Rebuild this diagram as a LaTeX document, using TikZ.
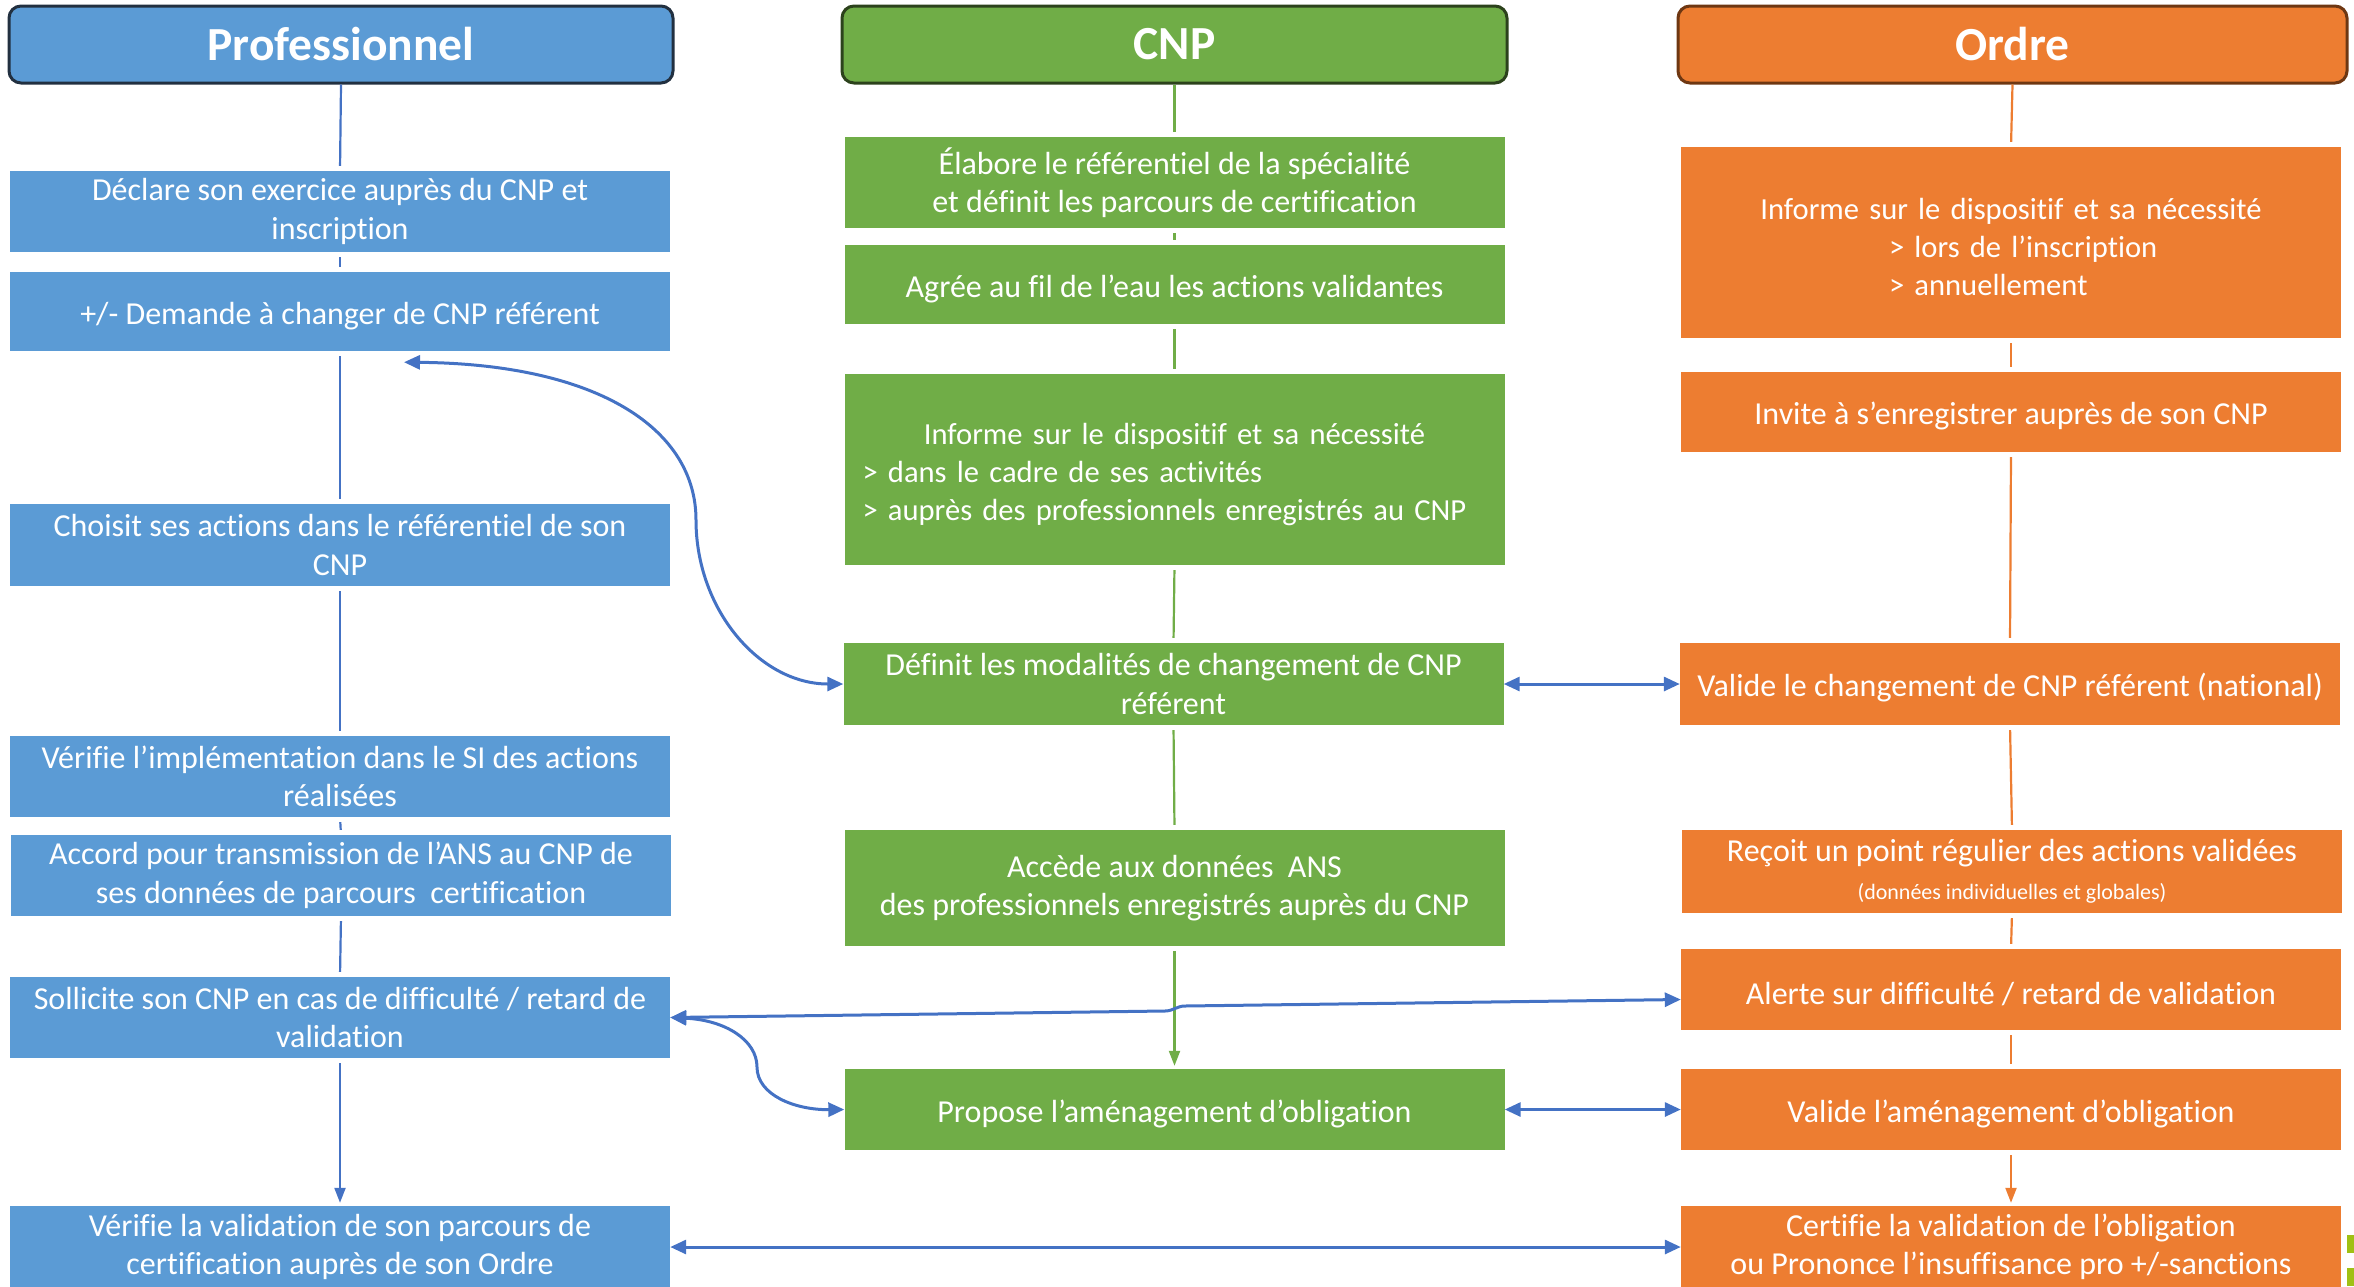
\documentclass[tikz,border=0pt]{standalone}
\usepackage{fontspec}
\setmainfont{Carlito}[Ligatures=NoCommon]
\usetikzlibrary{arrows.meta,calc}
\definecolor{pblue}{RGB}{91,155,213}
\definecolor{cgreen}{RGB}{112,173,71}
\definecolor{oorange}{RGB}{237,125,49}
\definecolor{lblue}{RGB}{68,114,196}
\definecolor{pborder}{RGB}{34,48,64}
\definecolor{cborder}{RGB}{44,66,28}
\definecolor{oborder}{RGB}{110,55,18}
\definecolor{ygreen}{RGB}{160,192,20}
\begin{document}
\begin{tikzpicture}[x=1pt,y=-1pt,
  box/.style={inner sep=0pt, text=white, align=center, font=\fontsize{32}{38.5}\selectfont, minimum width=660pt,
    execute at begin node={\rule{0pt}{31pt}}},
  pbox/.style={box, fill=pblue},
  cbox/.style={box, fill=cgreen},
  obox/.style={box, fill=oorange},
  smallbox/.style={font=\fontsize{30.6}{38}\selectfont},
  hdr/.style={rounded corners=12pt, line width=3pt, text=white, font=\fontsize{47.5}{50}\selectfont\bfseries, minimum height=77pt, inner sep=0pt},
  colline/.style={line width=2.2pt, shorten <=5pt, shorten >=5pt},
  pline/.style={colline, draw=lblue},
  cline/.style={colline, draw=cgreen},
  oline/.style={colline, draw=oorange},
  conn/.style={draw=lblue, line width=3pt, {Triangle[length=16pt,width=14pt]}-{Triangle[length=16pt,width=14pt]}},
  vtip/.style={-{Triangle[length=15pt,width=11pt]}, shorten >=3pt}
]
\useasboundingbox (0,0) rectangle (2354,1286);

% headers
\node[hdr, fill=pblue, draw=pborder, minimum width=664pt] (HP) at (341,44.5) {Professionnel};
\node[hdr, fill=cgreen, draw=cborder, minimum width=665pt] (HC) at (1174.5,44.5) {CNP};
\node[hdr, fill=oorange, draw=oborder, minimum width=669pt] (HO) at (2012.5,44.5) {Ordre};

% Professionnel column
\node[pbox, minimum height=81pt] (P1) at (340,211.5) {Déclare son exercice auprès du CNP et\\inscription};
\node[pbox, minimum height=79pt] (P2) at (340,311.5) {+/- Demande à changer de CNP référent};
\node[pbox, minimum height=82pt] (P3) at (340,545) {Choisit ses actions dans le référentiel de son\\CNP};
\node[pbox, minimum height=81pt] (P4) at (340,776.5) {Vérifie l’implémentation dans le SI des actions\\réalisées};
\node[pbox, minimum height=81pt] (P5) at (341,875.5) {Accord pour transmission de l’ANS au CNP de\\ses données de parcours~ certification};
\node[pbox, minimum height=81pt] (P6) at (340,1017.5) {Sollicite son CNP en cas de difficulté / retard de\\validation};
\node[pbox, minimum height=82pt] (P7) at (340,1247) {Vérifie la validation de son parcours de\\certification auprès de son Ordre};

% CNP column
\node[cbox, minimum height=91pt] (C1) at (1174.5,182.5) {Élabore le référentiel de la spécialité\\et définit les parcours de certification};
\node[cbox, minimum height=79pt] (C2) at (1174.5,284.5) {Agrée au fil de l’eau les actions validantes};
\node[cbox, smallbox, minimum height=191pt, text width=624pt, align=left] (C3) at (1174.5,469.5) {\makebox[624pt]{Informe sur le dispositif et sa nécessité}\\> dans le cadre de ses activités\\> auprès des professionnels enregistrés au CNP};
\node[cbox, minimum height=82pt] (C4) at (1173.5,684) {Définit les modalités de changement de CNP\\référent};
\node[cbox, minimum height=116pt] (C5) at (1174.5,888) {Accède aux données~ ANS\\des professionnels enregistrés auprès du CNP};
\node[cbox, minimum height=81pt] (C6) at (1174.5,1109.5) {Propose l’aménagement d’obligation};

% Ordre column
\node[obox, smallbox, minimum height=191pt, text width=624pt, align=left] (O1) at (2011,242.5) {\makebox[624pt]{Informe sur le dispositif et sa nécessité}\\\hspace*{190pt}> lors de l’inscription\\\hspace*{190pt}> annuellement};
\node[obox, minimum height=80pt] (O2) at (2011,412) {Invite à s’enregistrer auprès de son CNP};
\node[obox, minimum height=82pt] (O3) at (2010,684) {Valide le changement de CNP référent (national)};
\node[obox, minimum height=83pt] (O4) at (2012,871.5) {Reçoit un point régulier des actions validées\\\fontsize{22}{33}\selectfont(données individuelles et globales)};
\node[obox, minimum height=81pt] (O5) at (2011,989.5) {Alerte sur difficulté / retard de validation};
\node[obox, minimum height=81pt] (O6) at (2011,1109.5) {Valide l’aménagement d’obligation};
\node[obox, minimum height=82pt] (O7) at (2011,1247) {Certifie la validation de l’obligation\\ou Prononce l’insuffisance pro +/-sanctions};

% column lines
\draw[pline, shorten <=0pt] (HP.south) -- (P1.north);
\draw[pline] (P1.south) -- (P2.north);
\draw[pline] (P2.south) -- (P3.north);
\draw[pline] (P3.south) -- (P4.north);
\draw[pline] (P4.south) -- (P5.north);
\draw[pline] (P5.south) -- (P6.north);
\draw[pline, vtip, draw=lblue, fill=lblue] (P6.south) -- (P7.north);

\draw[cline, shorten <=0pt] (HC.south) -- (C1.north);
\draw[cline] (C1.south) -- (C2.north);
\draw[cline] (C2.south) -- (C3.north);
\draw[cline] (C3.south) -- (C4.north);
\draw[cline] (C4.south) -- (C5.north);
\draw[cline, vtip] (C5.south) -- (C6.north);

\draw[oline, shorten <=0pt] (HO.south) -- (O1.north);
\draw[oline] (O1.south) -- (O2.north);
\draw[oline] (O2.south) -- (O3.north);
\draw[oline] (O3.south) -- (O4.north);
\draw[oline] (O4.south) -- (O5.north);
\draw[oline] (O5.south) -- (O6.north);
\draw[oline, vtip] (O6.south) -- (O7.north);

% blue connectors
\coordinate (a1) at ($(P2.south)+(64,11)$);
\draw[conn] (a1) .. controls (600,364) and (696,430) .. (696,520) .. controls (696,610) and (760,684) .. (C4.west);
\coordinate (k1) at (1165,1011);
\coordinate (k2) at (1185,1006);
\draw[conn] (P6.east) -- (k1) to[out=0,in=180] (k2) -- ($(O5.west)+(0,10)$);
\draw[conn] (P6.east) .. controls (725,1020) and (757,1040) .. (757,1067) .. controls (757,1095) and (795,1110) .. (C6.west);
\draw[conn] (C4.east) -- (O3.west);
\draw[conn] (C6.east) -- (O6.west);
\draw[conn] (P7.east) -- (O7.west);

% corner marks
\fill[ygreen] (2347,1235) rectangle (2354,1253);
\fill[ygreen] (2347,1268) rectangle (2354,1286);
\end{tikzpicture}
\end{document}
